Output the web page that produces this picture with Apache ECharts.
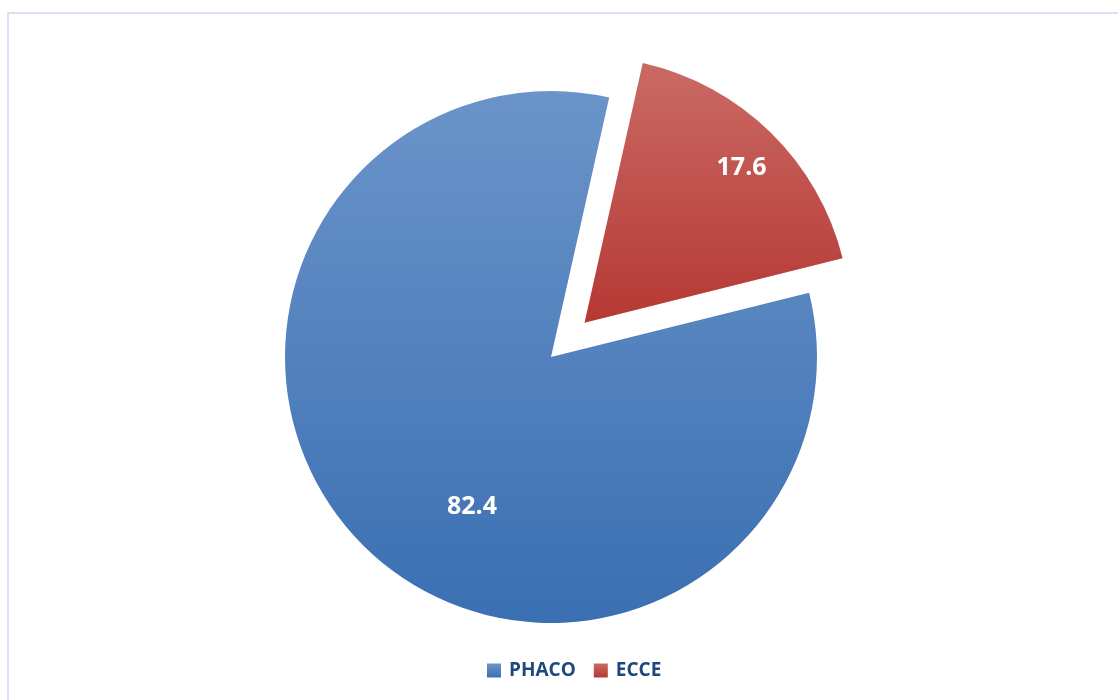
<!DOCTYPE html>
<html>
<head>
<meta charset="utf-8">
<title>PHACO vs ECCE</title>
<script src="https://cdn.jsdelivr.net/npm/echarts@6/dist/echarts.min.js"></script>
<style>
  html, body { margin: 0; padding: 0; background: #ffffff; overflow: hidden; }
  #frame {
    position: absolute; left: 7px; top: 12px; width: 1200px; height: 800px;
    border: 2px solid #d7e2f0; box-sizing: border-box;
  }
  #chart { position: absolute; left: 0; top: 0; width: 1118px; height: 700px; }
</style>
</head>
<body>
<div id="frame"></div>
<div id="chart"></div>
<script>
// Share of cataract surgery technique (%)
const categories = ['PHACO', 'ECCE'];
const values = [82.4, 17.6];

// vertical gradients per slice: [top, bottom]
const sliceColors = [
  ['#6b94c9', '#3a6fb2'],
  ['#ca6a65', '#b63834']
];
// nudges applied to the inside labels after layout
const labelOffsets = [[16, 53], [62, -57]];

const chart = echarts.init(document.getElementById('chart'), null, { renderer: 'canvas' });

const data = categories.map((name, i) => ({
  name: name,
  value: values[i],
  selected: name === 'ECCE',
  itemStyle: {
    color: new echarts.graphic.LinearGradient(0, 0, 0, 1, [
      { offset: 0, color: sliceColors[i][0] },
      { offset: 1, color: sliceColors[i][1] }
    ])
  }
}));

chart.setOption({
  animation: false,
  backgroundColor: 'transparent',
  legend: {
    data: categories,
    left: 482,
    top: 656,
    icon: 'rect',
    itemWidth: 14,
    itemHeight: 14,
    itemGap: 18,
    selectedMode: false,
    textStyle: {
      fontFamily: 'Open Sans',
      fontWeight: 'bold',
      fontSize: 19,
      color: '#1f487c',
      padding: [0, 0, 0, 3]
    }
  },
  series: [{
    type: 'pie',
    center: [551, 357],
    radius: [0, 266],
    startAngle: 14,
    clockwise: true,
    selectedMode: 'single',
    selectedOffset: 48,
    avoidLabelOverlap: false,
    label: {
      show: true,
      position: 'inside',
      formatter: p => p.value.toFixed(1),
      fontFamily: 'Open Sans',
      fontWeight: 'bold',
      fontSize: 25,
      color: '#ffffff'
    },
    labelLayout: p => ({ dx: labelOffsets[p.dataIndex][0], dy: labelOffsets[p.dataIndex][1] }),
    labelLine: { show: false },
    emphasis: { disabled: true },
    data: data
  }]
});
</script>
</body>
</html>
